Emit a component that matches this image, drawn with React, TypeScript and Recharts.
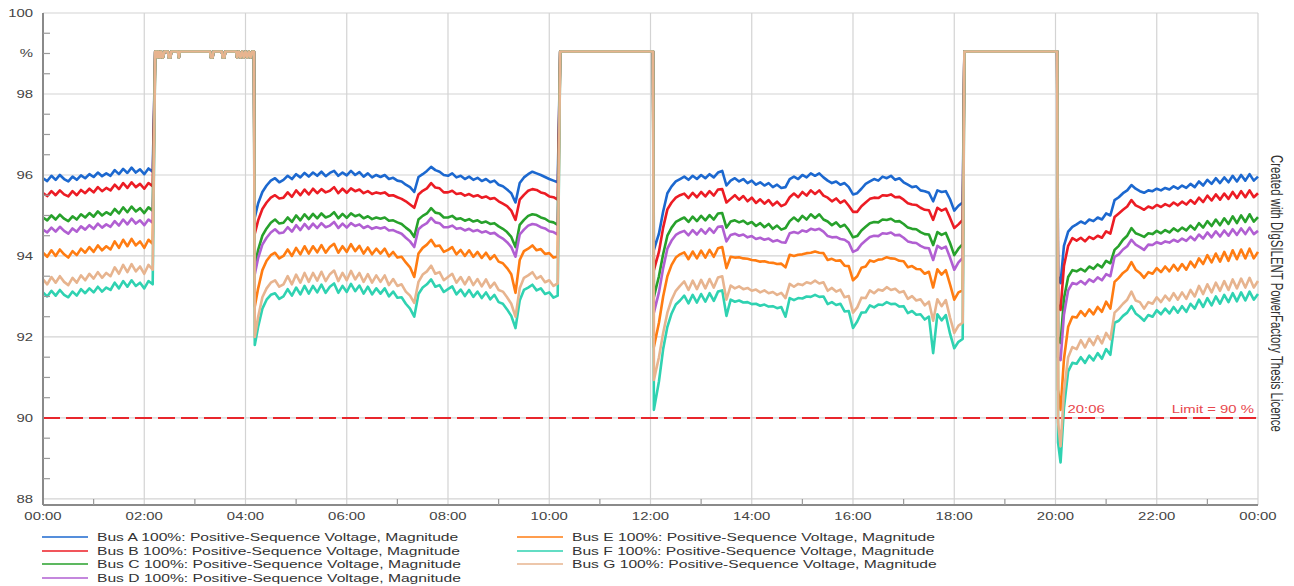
import React from 'react';
import { LineChart, Line, XAxis, YAxis, CartesianGrid, ReferenceLine, ReferenceDot } from 'recharts';

const FONT = '"Liberation Sans", Arial, Helvetica, sans-serif';
const SX = 1.42;

const range = (a: number, b: number, s: number) => {
  const r: number[] = [];
  for (let v = a; v <= b + 1e-9; v += s) r.push(Math.round(v * 100) / 100);
  return r;
};

// ---- series meta ----
const SERIES = [
  { key: 'A', name: 'Bus A 100%: Positive-Sequence Voltage, Magnitude', color: '#1c68cf' },
  { key: 'B', name: 'Bus B 100%: Positive-Sequence Voltage, Magnitude', color: '#ec1c24' },
  { key: 'C', name: 'Bus C 100%: Positive-Sequence Voltage, Magnitude', color: '#27a12b' },
  { key: 'D', name: 'Bus D 100%: Positive-Sequence Voltage, Magnitude', color: '#b15fd2' },
  { key: 'E', name: 'Bus E 100%: Positive-Sequence Voltage, Magnitude', color: '#ff7c12' },
  { key: 'F', name: 'Bus F 100%: Positive-Sequence Voltage, Magnitude', color: '#2fd2b1' },
  { key: 'G', name: 'Bus G 100%: Positive-Sequence Voltage, Magnitude', color: '#e7b48f' },
];

// ---- time grids (minutes after midnight) ----
const seg1T = range(0, 130, 5);
const seg2T = [251, ...range(255, 610, 5)];
const seg3T = [724, ...range(730, 1090, 5)];
const seg4T = [1203, 1206, ...range(1210, 1440, 5)];

// ---- periods where all buses read the same value ----
const box1T = [133,135,136,137,139,140,142,144,148,149,151,152,160,161,162,198,199,201,202,212,213,215,216,229,230,232,234,236,238,240,242,244,246,248,250];
const box1V = [99.05,99.05,98.9,99.05,98.9,99.05,98.9,99.05,99.05,98.9,98.9,99.05,99.05,98.9,99.05,99.05,98.9,98.9,99.05,99.05,98.9,98.9,99.05,99.05,98.9,99.05,98.9,99.05,98.9,99.05,98.9,99.05,98.9,99.05,99.05];
const box2T = [613, 723];
const box2V = [99.05, 99.05];
const box3T = [1092, 1202];
const box3V = [99.05, 99.05];

// ---- segment 1 (00:00 - 02:10) ----
const s1A = [95.92,95.85,95.98,95.88,96.0,95.9,95.84,95.96,95.88,95.99,95.92,96.02,95.95,96.06,95.97,96.04,95.98,96.12,96.02,96.15,96.05,96.18,96.06,96.14,96.02,96.16,96.08];
const s1B = [95.55,95.48,95.6,95.5,95.62,95.52,95.47,95.6,95.5,95.63,95.55,95.66,95.57,95.7,95.6,95.68,95.62,95.76,95.65,95.8,95.68,95.82,95.7,95.78,95.66,95.8,95.72];
const s1C = [94.95,94.88,95.0,94.9,95.02,94.92,94.86,94.98,94.9,95.03,94.95,95.06,94.97,95.1,95.0,95.08,95.02,95.16,95.05,95.2,95.08,95.22,95.1,95.18,95.06,95.2,95.12];
const s1D = [94.65,94.58,94.7,94.6,94.72,94.62,94.55,94.68,94.6,94.73,94.65,94.76,94.67,94.8,94.7,94.78,94.72,94.86,94.75,94.9,94.78,94.92,94.8,94.88,94.76,94.9,94.82];
const s1E = [94.08,93.98,94.14,94.0,94.16,94.04,93.96,94.12,94.02,94.18,94.08,94.22,94.1,94.26,94.14,94.24,94.16,94.36,94.2,94.4,94.24,94.42,94.26,94.36,94.2,94.4,94.3];
const s1F = [93.1,93.0,93.14,93.02,93.16,93.04,92.98,93.12,93.02,93.18,93.08,93.2,93.1,93.24,93.12,93.22,93.16,93.34,93.2,93.38,93.24,93.4,93.26,93.34,93.2,93.38,93.3];
const s1G = [93.42,93.3,93.48,93.34,93.5,93.36,93.28,93.46,93.34,93.52,93.4,93.56,93.44,93.6,93.46,93.58,93.5,93.72,93.56,93.78,93.6,93.8,93.62,93.74,93.56,93.78,93.66];

// ---- segment 2 (04:11 - 10:10) ----
const s2A = [94.95,95.30,95.58,95.74,95.86,95.92,95.82,95.88,95.98,95.90,96.02,95.94,96.05,95.96,96.06,95.98,96.08,95.97,96.05,96.10,95.98,96.06,95.99,96.10,96.00,96.07,95.96,96.04,95.94,96.00,95.95,96.00,95.90,95.93,95.86,95.84,95.76,95.70,95.58,95.95,96.02,96.10,96.20,96.12,96.08,96.00,95.98,96.04,95.94,95.98,95.90,95.96,95.88,95.93,95.85,95.90,95.82,95.86,95.76,95.72,95.64,95.55,95.32,95.80,95.94,96.02,96.08,96.04,96.00,95.95,95.90,95.86,95.82];
const s2B = [94.55,94.88,95.16,95.32,95.44,95.50,95.42,95.44,95.57,95.46,95.62,95.50,95.64,95.52,95.66,95.55,95.65,95.57,95.61,95.70,95.55,95.66,95.56,95.67,95.60,95.64,95.55,95.60,95.53,95.57,95.54,95.57,95.49,95.50,95.45,95.41,95.35,95.27,95.19,95.52,95.61,95.67,95.80,95.69,95.67,95.57,95.57,95.61,95.53,95.55,95.49,95.53,95.47,95.50,95.44,95.47,95.41,95.43,95.35,95.29,95.23,95.12,94.89,95.39,95.51,95.61,95.65,95.63,95.57,95.54,95.47,95.45,95.39];
const s2C = [93.75,94.15,94.50,94.68,94.82,94.90,94.80,94.82,94.95,94.84,95.00,94.88,95.03,94.91,95.04,94.93,95.05,94.95,94.99,95.08,94.93,95.04,94.94,95.05,94.98,95.02,94.93,94.98,94.91,94.95,94.92,94.95,94.87,94.88,94.83,94.79,94.70,94.62,94.47,94.90,94.99,95.05,95.18,95.07,95.05,94.95,94.95,94.99,94.91,94.93,94.87,94.91,94.85,94.88,94.82,94.85,94.79,94.81,94.73,94.67,94.59,94.47,94.22,94.77,94.89,94.99,95.03,95.01,94.95,94.92,94.85,94.83,94.77];
const s2D = [93.55,93.95,94.28,94.45,94.58,94.66,94.56,94.58,94.71,94.60,94.76,94.64,94.79,94.67,94.80,94.69,94.81,94.71,94.75,94.84,94.69,94.80,94.70,94.81,94.74,94.78,94.69,94.74,94.67,94.71,94.68,94.71,94.63,94.64,94.59,94.55,94.45,94.36,94.22,94.66,94.75,94.81,94.94,94.83,94.81,94.71,94.71,94.75,94.67,94.69,94.63,94.67,94.61,94.64,94.58,94.61,94.55,94.57,94.49,94.43,94.34,94.22,93.98,94.53,94.65,94.75,94.79,94.77,94.71,94.68,94.61,94.59,94.53];
const s2E = [92.75,93.20,93.65,93.88,94.02,94.08,93.94,94.00,94.16,94.00,94.20,94.04,94.24,94.06,94.24,94.09,94.27,94.08,94.22,94.30,94.08,94.24,94.10,94.29,94.12,94.25,94.06,94.21,94.04,94.18,94.06,94.18,93.99,94.10,93.96,93.98,93.84,93.72,93.48,94.06,94.20,94.28,94.40,94.24,94.26,94.10,94.15,94.22,94.04,94.15,94.00,94.14,93.98,94.10,93.95,94.08,93.92,94.02,93.86,93.82,93.70,93.55,93.09,93.90,94.12,94.18,94.26,94.14,94.17,94.05,94.07,93.96,93.98];
const s2F = [91.80,92.25,92.70,92.92,93.04,93.08,92.94,93.00,93.18,93.02,93.22,93.05,93.26,93.07,93.26,93.10,93.29,93.09,93.24,93.32,93.09,93.26,93.11,93.31,93.13,93.27,93.07,93.24,93.05,93.20,93.07,93.20,93.00,93.12,92.97,92.98,92.82,92.70,92.50,93.06,93.22,93.30,93.42,93.24,93.28,93.11,93.18,93.25,93.05,93.17,93.01,93.16,92.99,93.12,92.96,93.10,92.93,93.04,92.86,92.82,92.68,92.52,92.22,92.90,93.16,93.22,93.29,93.15,93.20,93.06,93.10,92.97,93.02];
const s2G = [92.00,92.50,92.98,93.20,93.34,93.40,93.24,93.30,93.50,93.30,93.54,93.34,93.58,93.36,93.58,93.39,93.61,93.38,93.55,93.64,93.38,93.58,93.40,93.63,93.42,93.58,93.36,93.55,93.34,93.52,93.36,93.52,93.28,93.43,93.26,93.30,93.12,93.02,92.84,93.36,93.54,93.62,93.76,93.56,93.60,93.40,93.48,93.56,93.34,93.48,93.30,93.48,93.28,93.43,93.25,93.42,93.22,93.34,93.16,93.12,92.98,92.82,92.50,93.20,93.46,93.52,93.60,93.44,93.50,93.35,93.40,93.26,93.32];

// ---- segment 3 (12:04 - 18:10) ----
const s3A = [94.15,94.55,95.10,95.55,95.72,95.84,95.90,95.96,95.88,95.98,95.90,96.00,95.92,96.02,95.94,96.06,96.10,95.74,95.86,95.92,95.84,95.90,95.80,95.86,95.76,95.82,95.74,95.80,95.70,95.76,95.68,95.70,95.90,95.96,95.90,96.00,95.94,96.04,95.98,96.04,95.94,95.86,95.80,95.84,95.76,95.80,95.70,95.52,95.55,95.66,95.78,95.84,95.90,95.86,95.96,95.92,95.98,95.88,95.92,95.82,95.76,95.70,95.72,95.62,95.60,95.56,95.35,95.62,95.58,95.60,95.40,95.12,95.24,95.32];
const s3B = [93.65,94.10,94.70,95.15,95.32,95.44,95.50,95.54,95.43,95.56,95.45,95.58,95.47,95.60,95.49,95.64,95.65,95.32,95.41,95.50,95.39,95.48,95.35,95.44,95.31,95.40,95.29,95.38,95.25,95.34,95.23,95.28,95.45,95.54,95.45,95.58,95.49,95.62,95.53,95.62,95.49,95.44,95.35,95.42,95.31,95.37,95.24,95.09,95.09,95.23,95.32,95.41,95.44,95.43,95.50,95.49,95.52,95.45,95.46,95.39,95.30,95.27,95.26,95.19,95.14,95.13,94.89,95.19,95.12,95.17,94.94,94.69,94.78,94.89];
const s3C = [92.99,93.50,94.05,94.50,94.70,94.84,94.90,94.95,94.84,94.97,94.86,94.99,94.88,95.01,94.90,95.05,95.06,94.70,94.85,94.88,94.83,94.87,94.79,94.84,94.74,94.81,94.71,94.79,94.67,94.75,94.65,94.69,94.86,94.95,94.86,94.99,94.90,95.03,94.94,95.03,94.90,94.85,94.76,94.83,94.72,94.77,94.64,94.46,94.49,94.63,94.72,94.81,94.84,94.83,94.90,94.89,94.92,94.85,94.86,94.79,94.70,94.67,94.66,94.59,94.54,94.53,94.27,94.59,94.52,94.57,94.32,94.02,94.18,94.29];
const s3D = [92.60,93.10,93.70,94.18,94.38,94.52,94.58,94.62,94.51,94.64,94.53,94.66,94.55,94.68,94.57,94.72,94.73,94.36,94.52,94.55,94.50,94.53,94.46,94.49,94.42,94.45,94.40,94.43,94.36,94.39,94.34,94.33,94.56,94.59,94.56,94.63,94.60,94.67,94.64,94.67,94.60,94.49,94.46,94.47,94.42,94.40,94.33,94.10,94.15,94.29,94.38,94.47,94.50,94.49,94.56,94.55,94.58,94.51,94.52,94.45,94.36,94.33,94.32,94.25,94.20,94.19,93.90,94.25,94.18,94.23,93.96,93.66,93.84,93.95];
const s3E = [91.75,92.35,93.00,93.50,93.78,93.96,94.04,94.09,93.92,94.11,93.94,94.13,93.96,94.15,93.98,94.19,94.22,93.70,93.98,93.96,93.97,93.94,93.93,93.90,93.89,93.86,93.87,93.84,93.83,93.80,93.81,93.72,94.03,94.00,94.03,94.04,94.07,94.08,94.11,94.08,94.07,93.90,93.93,93.88,93.89,93.76,93.75,93.40,93.50,93.71,93.74,93.89,93.86,93.91,93.92,93.97,93.94,93.93,93.88,93.87,93.72,93.75,93.68,93.67,93.56,93.61,93.22,93.67,93.54,93.65,93.30,92.92,93.10,93.15];
const s3F = [90.20,90.90,91.70,92.25,92.58,92.80,92.90,93.02,92.83,93.04,92.85,93.06,92.87,93.08,92.89,93.12,93.15,92.52,92.92,92.87,92.90,92.85,92.86,92.81,92.82,92.77,92.80,92.75,92.76,92.71,92.74,92.50,92.96,92.91,92.96,92.95,93.00,92.99,93.04,92.99,93.00,92.81,92.86,92.79,92.82,92.63,92.64,92.22,92.38,92.60,92.61,92.78,92.73,92.80,92.79,92.86,92.81,92.82,92.75,92.76,92.59,92.64,92.55,92.56,92.43,92.50,91.60,92.56,92.41,92.54,92.08,91.72,91.88,91.95];
const s3G = [90.94,91.50,92.10,92.60,92.92,93.14,93.26,93.37,93.16,93.39,93.18,93.41,93.20,93.43,93.22,93.47,93.50,92.92,93.27,93.20,93.25,93.18,93.21,93.14,93.17,93.10,93.15,93.08,93.11,93.04,93.09,92.96,93.31,93.24,93.31,93.28,93.35,93.32,93.39,93.32,93.35,93.14,93.21,93.12,93.17,92.98,93.01,92.60,92.73,92.97,92.96,93.15,93.08,93.17,93.14,93.23,93.16,93.19,93.10,93.13,92.94,93.01,92.90,92.93,92.78,92.87,92.40,92.93,92.76,92.91,92.48,92.10,92.28,92.35];

// ---- segment 4 (20:03 - 24:00) ----
const s4A = [93.50,93.33,94.25,94.60,94.72,94.78,94.85,94.80,94.90,94.86,94.95,94.90,95.05,95.00,95.38,95.45,95.55,95.62,95.75,95.66,95.60,95.56,95.62,95.60,95.66,95.62,95.68,95.64,95.72,95.66,95.74,95.68,95.78,95.70,95.84,95.74,95.88,95.78,95.92,95.80,95.94,95.82,95.98,95.84,96.00,95.86,96.02,95.86,95.96];
const s4B = [92.80,92.67,93.75,94.25,94.44,94.38,94.45,94.36,94.47,94.42,94.50,94.45,94.61,94.55,94.96,95.05,95.14,95.22,95.38,95.25,95.20,95.14,95.22,95.18,95.26,95.21,95.28,95.23,95.32,95.25,95.34,95.27,95.38,95.29,95.44,95.33,95.49,95.37,95.52,95.39,95.54,95.41,95.58,95.43,95.60,95.45,95.62,95.45,95.55];
const s4C = [92.00,91.85,92.95,93.48,93.65,93.62,93.68,93.62,93.74,93.68,93.79,93.72,93.88,93.82,94.15,94.25,94.40,94.50,94.69,94.56,94.52,94.47,94.56,94.54,94.62,94.56,94.64,94.58,94.68,94.61,94.70,94.63,94.75,94.65,94.81,94.70,94.86,94.74,94.90,94.76,94.93,94.79,94.98,94.81,95.00,94.84,95.03,94.85,94.96];
const s4D = [91.50,91.43,92.55,93.15,93.33,93.30,93.38,93.30,93.42,93.36,93.47,93.40,93.55,93.50,93.98,94.04,94.16,94.24,94.40,94.28,94.22,94.15,94.28,94.27,94.34,94.30,94.36,94.33,94.40,94.35,94.43,94.37,94.48,94.39,94.53,94.43,94.58,94.46,94.61,94.48,94.63,94.50,94.66,94.52,94.68,94.54,94.70,94.54,94.62];
const s4E = [90.70,90.20,91.45,92.25,92.50,92.48,92.64,92.52,92.68,92.56,92.74,92.62,92.87,92.70,93.36,93.46,93.58,93.66,93.85,93.66,93.58,93.46,93.60,93.56,93.70,93.60,93.74,93.62,93.78,93.64,93.80,93.66,93.86,93.72,93.94,93.80,94.02,93.84,94.06,93.86,94.10,93.88,94.14,93.92,94.16,93.94,94.18,93.94,94.10];
const s4F = [89.40,88.90,90.25,91.15,91.36,91.34,91.50,91.36,91.54,91.42,91.60,91.46,91.70,91.56,92.35,92.40,92.52,92.60,92.76,92.58,92.50,92.40,92.54,92.50,92.66,92.56,92.70,92.58,92.74,92.60,92.76,92.62,92.82,92.70,92.92,92.74,92.96,92.78,93.00,92.82,93.04,92.86,93.08,92.88,93.10,92.90,93.12,92.92,93.06];
const s4G = [89.90,89.30,90.65,91.50,91.75,91.70,91.92,91.74,91.96,91.80,92.02,91.84,92.10,91.94,92.60,92.70,92.82,92.92,93.12,92.90,92.86,92.70,92.86,92.82,92.98,92.86,93.02,92.90,93.08,92.92,93.10,92.94,93.16,93.00,93.26,93.06,93.30,93.10,93.34,93.14,93.38,93.16,93.42,93.20,93.44,93.22,93.46,93.22,93.38];

// ---- axes ----
const xTicks = range(0, 1440, 60);
const yTicks = range(88, 100, 0.5);
const gridX = range(120, 1440, 120);
const gridY = range(88, 100, 2);
const yUnitTick = 99;
const yUnitLabel = '%';
const limitValue = 90;
const limitLabel = 'Limit = 90 %';
const minTime = 1206;
const minTimeLabel = '20:06';
const watermark = 'Created with DIgSILENT PowerFactory Thesis Licence';

type Seg = { times: number[]; values?: Record<string, number[]>; shared?: number[] };
const segments: Seg[] = [
  { times: seg1T, values: { A: s1A, B: s1B, C: s1C, D: s1D, E: s1E, F: s1F, G: s1G } },
  { times: box1T, shared: box1V },
  { times: seg2T, values: { A: s2A, B: s2B, C: s2C, D: s2D, E: s2E, F: s2F, G: s2G } },
  { times: box2T, shared: box2V },
  { times: seg3T, values: { A: s3A, B: s3B, C: s3C, D: s3D, E: s3E, F: s3F, G: s3G } },
  { times: box3T, shared: box3V },
  { times: seg4T, values: { A: s4A, B: s4B, C: s4C, D: s4D, E: s4E, F: s4F, G: s4G } },
];

const data: Record<string, number>[] = [];
segments.forEach((seg) => {
  seg.times.forEach((t, i) => {
    const row: Record<string, number> = { t };
    SERIES.forEach((s) => {
      row[s.key] = seg.shared ? seg.shared[i] : (seg.values as Record<string, number[]>)[s.key][i];
    });
    data.push(row);
  });
});

const fmtTime = (m: number) => {
  const h = Math.floor(m / 60) % 24;
  const mm = m % 60;
  return `${String(h).padStart(2, '0')}:${String(mm).padStart(2, '0')}`;
};

const TICK_FILL = '#444';
const MINOR = '#9a9a9a';

const XTick = (p: any) => {
  const { x, y, payload } = p;
  const v = payload.value;
  if (v % 120 === 0) {
    return (
      <text transform={`translate(${x} ${y + 15}) scale(${SX} 1)`} textAnchor="middle" fontSize={10.5} fontFamily={FONT} fill={TICK_FILL}>
        {fmtTime(v)}
      </text>
    );
  }
  return <line x1={x} x2={x} y1={y} y2={y - 6} stroke={MINOR} strokeWidth={1.2} />;
};

const YTick = (p: any) => {
  const { x, y, payload } = p;
  const v = payload.value;
  if (Math.abs(v % 2) < 1e-9) {
    return (
      <text transform={`translate(${x - 10} ${y + 4}) scale(${SX} 1)`} textAnchor="end" fontSize={10.5} fontFamily={FONT} fill={TICK_FILL}>
        {v}
      </text>
    );
  }
  const ln = <line x1={x} x2={x + 7} y1={y} y2={y} stroke={MINOR} strokeWidth={1.2} />;
  if (v === yUnitTick) {
    return (
      <g>
        {ln}
        <text transform={`translate(${x - 10} ${y + 4}) scale(${SX} 1)`} textAnchor="end" fontSize={10.5} fontFamily={FONT} fill={TICK_FILL}>
          {yUnitLabel}
        </text>
      </g>
    );
  }
  return ln;
};

const LimitLabel = (p: any) => {
  const vb = p.viewBox || {};
  const xr = (vb.x ?? 0) + (vb.width ?? 0) - 4;
  const yy = (vb.y ?? 0) - 5;
  return (
    <text transform={`translate(${xr} ${yy}) scale(${SX} 1)`} textAnchor="end" fontSize={10.5} fontFamily={FONT} fill="#e8474d">
      {limitLabel}
    </text>
  );
};

const MinTimeShape = (p: any) => (
  <text transform={`translate(${p.cx + 7} ${p.cy - 5}) scale(${SX} 1)`} textAnchor="start" fontSize={10.5} fontFamily={FONT} fill="#e8474d">
    {minTimeLabel}
  </text>
);

const legendCols = [
  { left: 42, keys: ['A', 'B', 'C', 'D'] },
  { left: 517, keys: ['E', 'F', 'G'] },
];
const legendRowY = [537, 550.5, 564, 577.5];

export default function App() {
  return (
    <div style={{ position: 'absolute', left: 0, top: 0, width: 1294, height: 586, background: '#fff', fontFamily: FONT }}>
      <LineChart width={1294} height={586} data={data} margin={{ top: 13, right: 36, bottom: 56, left: 0 }}>
        <CartesianGrid stroke="#d3d3d3" strokeWidth={1.2} horizontalValues={gridY} verticalValues={gridX} />
        <XAxis
          dataKey="t"
          type="number"
          domain={[0, 1440]}
          ticks={xTicks}
          interval={0}
          height={25}
          tickSize={0}
          tickMargin={0}
          tickLine={false}
          axisLine={{ stroke: '#8a8a8a', strokeWidth: 2 }}
          tick={(p: any) => <XTick {...p} />}
        />
        <YAxis
          type="number"
          domain={[87.85, 100]}
          ticks={yTicks}
          interval={0}
          width={43}
          tickSize={0}
          tickMargin={0}
          tickLine={false}
          axisLine={{ stroke: '#8a8a8a', strokeWidth: 2 }}
          tick={(p: any) => <YTick {...p} />}
        />
        <ReferenceLine y={limitValue} stroke="#e8262c" strokeWidth={2} strokeDasharray="17 6" label={<LimitLabel />} />
        <ReferenceDot x={minTime} y={limitValue} r={1} fill="none" stroke="none" shape={(p: any) => <MinTimeShape {...p} />} />
        {SERIES.map((s) => (
          <Line
            key={s.key}
            type="linear"
            dataKey={s.key}
            name={s.name}
            stroke={s.color}
            strokeWidth={2.6}
            strokeLinejoin="round"
            dot={false}
            activeDot={false}
            isAnimationActive={false}
          />
        ))}
      </LineChart>

      {legendCols.map((col) =>
        col.keys.map((k, i) => {
          const s = SERIES.find((q) => q.key === k)!;
          return (
            <div
              key={k}
              style={{ position: 'absolute', left: col.left, top: legendRowY[i] - 7, height: 14, display: 'flex', alignItems: 'center', whiteSpace: 'nowrap' }}
            >
              <svg width={46} height={14} style={{ display: 'block' }}>
                <line x1={0} y1={7} x2={46} y2={7} stroke={s.color} strokeWidth={1.5} />
              </svg>
              <span
                style={{
                  display: 'inline-block',
                  marginLeft: 9,
                  fontSize: 11,
                  lineHeight: '14px',
                  color: '#333',
                  transform: `scaleX(${SX})`,
                  transformOrigin: 'left center',
                }}
              >
                {s.name}
              </span>
            </div>
          );
        })
      )}

      <div
        style={{
          position: 'absolute',
          left: 1270,
          top: 155,
          writingMode: 'vertical-rl',
          fontSize: 11.4,
          lineHeight: '14px',
          color: '#333',
          whiteSpace: 'nowrap',
          transform: `scaleX(${SX})`,
          transformOrigin: 'center',
        }}
      >
        {watermark}
      </div>
    </div>
  );
}
